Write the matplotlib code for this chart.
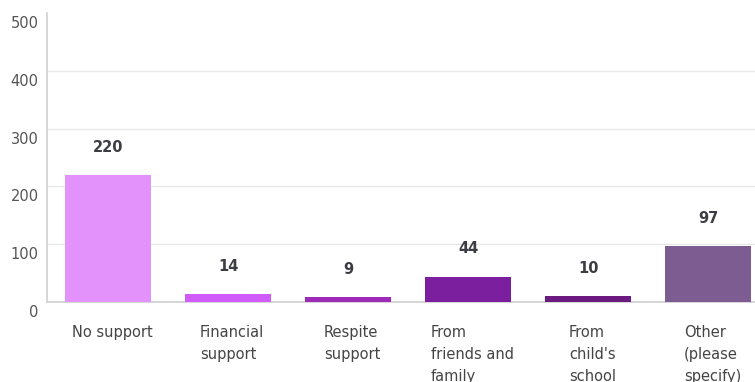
import matplotlib
matplotlib.use("Agg")
import matplotlib.pyplot as plt
from matplotlib.transforms import ScaledTranslation

# data
categories = ["No support", "Financial\nsupport", "Respite\nsupport",
              "From\nfriends and\nfamily", "From\nchild's\nschool", "Other\n(please\nspecify)"]
values = [220, 14, 9, 44, 10, 97]
bar_colors = ["#E391FB", "#D05BF8", "#9E2AB8", "#7B1F9E", "#6B1A80", "#7D5C91"]
y_ticks = [0, 100, 200, 300, 400, 500]

plt.rcParams['font.family'] = ['DejaVu Sans']

fig = plt.figure(figsize=(7.55, 3.82), dpi=100)
ax = fig.add_axes([47 / 755, 80 / 382, 1 - 47 / 755, 289 / 382])

x = list(range(len(values)))
ax.bar(x, values, width=0.717, color=bar_colors, zorder=3)

ax.set_xlim(-0.508, 5.39)
ax.set_ylim(0, 500)
ax.set_yticks(y_ticks)
ax.set_xticks([])
ax.grid(axis="y", color="#e8e8e8", linewidth=1, zorder=0)
ax.yaxis.get_gridlines()[-1].set_visible(False)

for s in ["top", "right"]:
    ax.spines[s].set_visible(False)
for s in ["left", "bottom"]:
    ax.spines[s].set_color("#d0d0d0")
    ax.spines[s].set_linewidth(1.2)

ax.tick_params(axis="y", length=0, pad=6, labelsize=10.5, labelcolor="#555555")
shift = ScaledTranslation(0, -3 / 100, fig.dpi_scale_trans)
for lab in ax.get_yticklabels():
    lab.set_va("top")
    lab.set_transform(lab.get_transform() + shift)

# value labels above bars
for xi, v in zip(x, values):
    ax.annotate(str(v), (xi, v), xytext=(0, 20), textcoords="offset points",
                ha="center", va="center", fontsize=10.5, fontweight="bold",
                color="#3c3c44")

# category labels under the axis
for xi, cat in zip(x, categories):
    ax.annotate(cat, (xi, 0), xytext=(3, -16.5), textcoords="offset points",
                ha="center", va="top", multialignment="left", fontsize=10.5,
                color="#444444", linespacing=1.6, annotation_clip=False)

fig.savefig("out.png", dpi=100)
